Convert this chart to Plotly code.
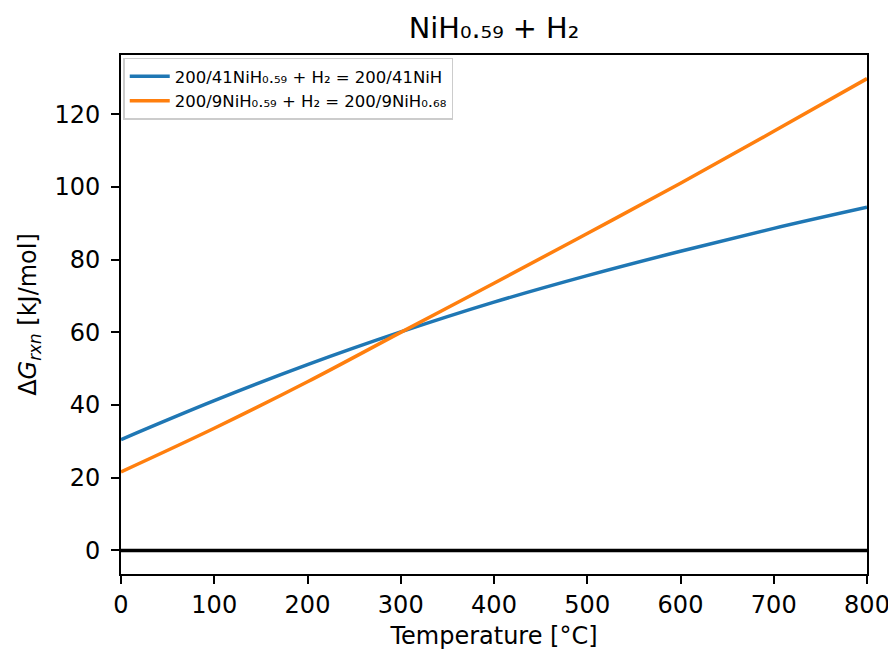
import plotly.graph_objects as go

# Data
temperature = [0, 100, 200, 300, 400, 500, 600, 700, 800]
dg_nih = [30.5, 41.2, 51.1, 60.1, 68.3, 75.6, 82.3, 88.6, 94.4]
dg_nih068 = [21.6, 33.6, 46.4, 60.0, 73.5, 87.2, 101.0, 115.3, 129.8]
zero_x = [0, 800]
zero_y = [0, 0]

series_names = [
    "200/41NiH₀.₅₉ + H₂ = 200/41NiH",
    "200/9NiH₀.₅₉ + H₂ = 200/9NiH₀.₆₈",
]
x_ticks = [0, 100, 200, 300, 400, 500, 600, 700, 800]
y_ticks = [0, 20, 40, 60, 80, 100, 120]

FONT = "DejaVu Sans"
W, H = 888, 642  # page body has an 8px margin

fig = go.Figure()
fig.add_trace(go.Scatter(x=zero_x, y=zero_y, mode="lines",
                         line=dict(color="black", width=3.5), showlegend=False,
                         hoverinfo="skip"))
fig.add_trace(go.Scatter(x=temperature, y=dg_nih, mode="lines", name=series_names[0],
                         line=dict(color="#1f77b4", width=3.5, shape="spline")))
fig.add_trace(go.Scatter(x=temperature, y=dg_nih068, mode="lines", name=series_names[1],
                         line=dict(color="#ff7f0e", width=3.5, shape="spline")))

axis_common = dict(
    showline=True, linecolor="black", linewidth=2, mirror=True,
    ticks="outside", ticklen=8, tickwidth=2, tickcolor="black",
    showgrid=False, zeroline=False, automargin=False,
    tickfont=dict(family=FONT, size=24, color="black"),
)

fig.update_layout(
    width=W, height=H,
    margin=dict(l=113, r=29, t=47, b=76),
    paper_bgcolor="white", plot_bgcolor="white",
    font=dict(family=FONT, color="black"),
    title=dict(text="NiH₀.₅₉ + H₂", x=0.5, xref="paper", xanchor="center",
               y=1 - 20 / H, yref="container", yanchor="middle",
               font=dict(family=FONT, size=28.8, color="black")),
    xaxis=dict(range=[0, 800], tickvals=x_ticks, ticklabeloverflow="allow",
               title=dict(text="Temperature [°C]", font=dict(family=FONT, size=24), standoff=15),
               **axis_common),
    yaxis=dict(range=[-6.49, 136.3], tickvals=y_ticks, ticklabelstandoff=6,
               title=dict(text="Δ<i>G</i><sub><i>rxn</i></sub> [kJ/mol]",
                          font=dict(family=FONT, size=24), standoff=11),
               **axis_common),
    legend=dict(x=0.003, y=0.995, xanchor="left", yanchor="top",
                bgcolor="rgba(255,255,255,0.8)", bordercolor="#cccccc", borderwidth=1.5,
                font=dict(family=FONT, size=16.5, color="black"),
                tracegroupgap=0, itemwidth=40),
)

fig.write_html("out.html")
